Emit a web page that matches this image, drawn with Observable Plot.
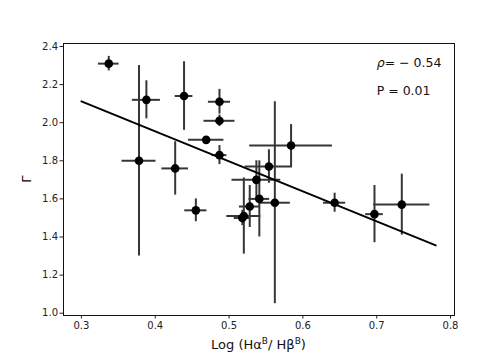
<!DOCTYPE html>
<html>
<head>
<meta charset="utf-8">
<script src="https://cdn.jsdelivr.net/npm/d3@7"></script>
<script src="https://cdn.jsdelivr.net/npm/@observablehq/plot@0.6"></script>
<style>
  html, body { margin: 0; padding: 0; background: #fff; }
  #chart { width: 504px; height: 360px; }
</style>
</head>
<body>
<div id="chart"></div>
<script>
// Data
const xs    = [0.337, 0.378, 0.388, 0.439, 0.487, 0.487, 0.469, 0.487, 0.427, 0.455, 0.554, 0.584, 0.537, 0.541, 0.562, 0.528, 0.518, 0.520, 0.643, 0.697, 0.734];
const ys    = [2.31,  1.80,  2.12,  2.14,  2.11,  2.01,  1.91,  1.83,  1.76,  1.54,  1.77,  1.88,  1.70,  1.60,  1.58,  1.56,  1.50,  1.51,  1.58,  1.52,  1.57];
const xErrs = [0.014, 0.023, 0.019, 0.012, 0.015, 0.021, 0.024, 0.010, 0.018, 0.015, 0.032, 0.056, 0.033, 0.014, 0.021, 0.014, 0.011, 0.023, 0.015, 0.012, 0.038];
const yErrs = [0.038, 0.50,  0.10,  0.18,  0.065, 0.03,  0.01,  0.05,  0.14,  0.06,  0.088, 0.11,  0.10,  0.20,  0.53,  0.11,  0.04,  0.20,  0.05,  0.15,  0.16];

const fitX = [0.30, 0.78];
const fitY = [2.112, 1.356];

const xTicks = [0.3, 0.4, 0.5, 0.6, 0.7, 0.8];
const yTicks = [1.0, 1.2, 1.4, 1.6, 1.8, 2.0, 2.2, 2.4];

const annotations = ["ρ= − 0.54", "P = 0.01"];
const annX = [0.70, 0.70];
const annY = [2.292, 2.145];

const points = xs.map((x, i) => ({x, y: ys[i], xe: xErrs[i], ye: yErrs[i]}));
const fit = fitX.map((x, i) => ({x, y: fitY[i]}));
const ann = annotations.map((t, i) => ({t, x: annX[i], y: annY[i]}));

const errColor = "#363636";

const chart = Plot.plot({
  width: 504,
  height: 360,
  marginLeft: 63,
  marginRight: 50,
  marginTop: 43,
  marginBottom: 45,
  style: {fontFamily: "DejaVu Sans", fontSize: "10px", color: "#222", background: "#fff"},
  x: {domain: [0.2757, 0.8054]},
  y: {domain: [0.988, 2.4157]},
  marks: [
    Plot.ruleY(points, {y: "y", x1: d => d.x - d.xe, x2: d => d.x + d.xe, stroke: errColor, strokeWidth: 2}),
    Plot.ruleX(points, {x: "x", y1: d => d.y - d.ye, y2: d => d.y + d.ye, stroke: errColor, strokeWidth: 2}),
    Plot.line(fit, {x: "x", y: "y", stroke: "black", strokeWidth: 2}),
    Plot.dot(points, {x: "x", y: "y", r: 4.3, fill: "black", stroke: "none"}),
    Plot.text(ann, {x: "x", y: "y", text: "t", textAnchor: "start", lineAnchor: "bottom", fontSize: 12.5, fill: "#111"}),
    Plot.frame({stroke: "#111", strokeWidth: 1}),
    Plot.axisX({ticks: xTicks, tickFormat: d3.format(".1f"), tickSize: 3.5, tickPadding: 3, label: null}),
    Plot.axisY({ticks: yTicks, tickFormat: d3.format(".1f"), tickSize: 3.5, tickPadding: 2, label: null})
  ]
});

document.getElementById("chart").appendChild(chart);

const svg = d3.select(chart);

// Italic rho, as in the reference's math text
svg.selectAll("text").each(function() {
  const el = d3.select(this);
  const s = this.textContent;
  if (s.startsWith("ρ") && this.children.length === 0) {
    el.text(null);
    el.append("tspan").attr("font-style", "italic").text("ρ");
    el.append("tspan").text(s.slice(1));
  }
});

// Axis titles (x title needs superscripts)
const xt = svg.append("text")
  .attr("x", 63 + (504 - 63 - 50) / 2)
  .attr("y", 349)
  .attr("text-anchor", "middle")
  .attr("font-family", "DejaVu Sans")
  .attr("font-size", 13)
  .attr("fill", "#111");
xt.append("tspan").text("Log (Hα");
xt.append("tspan").attr("dy", -5).attr("font-size", 9).text("B");
xt.append("tspan").attr("dy", 5).text("/ Hβ");
xt.append("tspan").attr("dy", -5).attr("font-size", 9).text("B");
xt.append("tspan").attr("dy", 5).text(")");

svg.append("text")
  .attr("transform", `translate(31, ${43 + (315 - 43) / 2}) rotate(-90)`)
  .attr("text-anchor", "middle")
  .attr("font-family", "DejaVu Sans")
  .attr("font-size", 13)
  .attr("fill", "#000")
  .text("Γ");
</script>
</body>
</html>
